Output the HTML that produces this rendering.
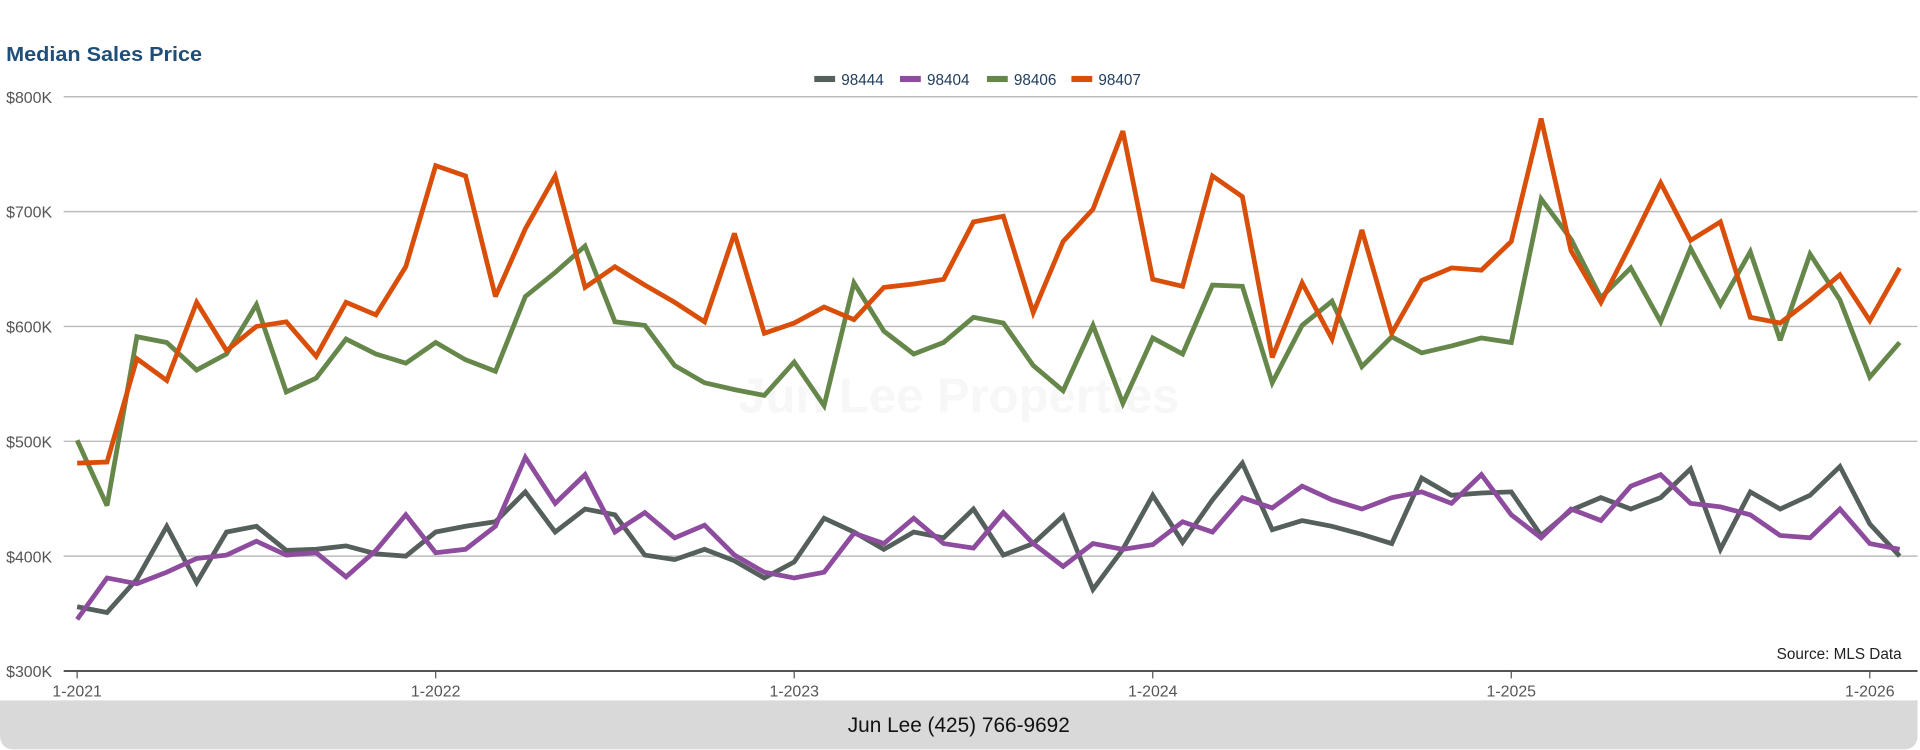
<!DOCTYPE html>
<html><head><meta charset="utf-8">
<style>
html,body{margin:0;padding:0;background:#fff;}
svg{display:block;}
text{font-family:"Liberation Sans",sans-serif;}
</style></head>
<body>
<svg id="chart" width="1920" height="750" viewBox="0 0 1568 612.5" xmlns="http://www.w3.org/2000/svg">
<text x="5" y="50" font-size="16.5" font-weight="bold" fill="#1f4e79" textLength="160" lengthAdjust="spacingAndGlyphs">Median Sales Price</text>
<text x="783" y="337" font-size="40" font-weight="bold" fill="#f7f7f7" text-anchor="middle">Jun Lee Properties</text>
<g id="grid"></g>
<g id="ylabels"></g>
<g id="xlabels"></g>
<g id="series"></g>
<g id="legend"></g>
<text x="1553" y="538" font-size="12.5" fill="#222" text-anchor="end">Source: MLS Data</text>
<path d="M0,572 H1566 V600 Q1566,612 1554,612 H12 Q0,612 0,600 Z" fill="#d9d9d9"/>
<text x="783" y="598" font-size="17" fill="#111" text-anchor="middle">Jun Lee (425) 766-9692</text>
</svg>
<script>
const seriesNames = ["98444","98404","98406","98407"];
const seriesColors = ["#555f5c","#8e4c9e","#66874a","#d94f0a"];
const yTicks = [300,400,500,600,700,800];
const yTickLabels = ["$300K","$400K","$500K","$600K","$700K","$800K"];
const xTickIndex = [0,12,24,36,48,60];
const xTickLabels = ["1-2021","1-2022","1-2023","1-2024","1-2025","1-2026"];
const s98444 = [356,351,380,426,377,421,426,405,406,409,402,400,421,426,430,456,421,441,436,401,397,406,396,381,395,433,421,406,421,416,441,401,411,435,371,406,453,412,449,481,423,431,426,419,411,468,453,455,456,418,440,451,441,451,476,406,456,441,453,478,428,400];
const s98404 = [345,381,376,386,398,401,413,401,403,382,405,436,403,406,426,486,446,471,421,438,416,427,401,386,381,386,420,411,433,411,407,438,411,391,411,406,410,430,421,451,442,461,449,441,451,456,446,471,436,416,441,431,461,471,446,443,436,418,416,441,411,406];
const s98406 = [501,444,591,586,562,576,619,543,555,589,576,568,586,571,561,626,647,670,604,601,566,551,545,540,569,531,638,596,576,586,608,603,566,544,601,533,590,576,636,635,551,601,622,565,591,577,583,590,586,711,676,625,651,604,668,619,665,588,663,623,556,586];
const s98407 = [481,482,572,553,621,579,600,604,574,621,610,652,740,731,626,685,731,634,652,636,621,604,681,594,603,617,606,634,637,641,691,696,612,674,702,770,641,635,731,713,573,638,589,684,594,640,651,649,674,781,666,621,672,725,675,691,608,603,623,645,605,651];
const allSeries = [s98444,s98404,s98406,s98407];

const NS="http://www.w3.org/2000/svg";
const X0=63, DX=24.4, Y300=548, PXPER100=93.8;
function xPos(i){return X0+i*DX;}
function yPos(v){return Y300-(v-300)*PXPER100/100;}
function mk(tag,attrs,parent){const e=document.createElementNS(NS,tag);for(const k in attrs)e.setAttribute(k,attrs[k]);parent.appendChild(e);return e;}

const grid=document.getElementById('grid'), yl=document.getElementById('ylabels'), xl=document.getElementById('xlabels');
yTicks.forEach((t,i)=>{
  const y=yPos(t);
  const ln=mk('line',{x1:52,x2:1566,y1:y,y2:y,stroke:i===0?'#555':'#bbb','stroke-width':i===0?1.6:1.2},grid);
  
  
  const tx=mk('text',{x:5,y:y+5,'font-size':13,fill:'#555'},yl);
  tx.textContent=yTickLabels[i];
  
  
});
xTickIndex.forEach((idx,i)=>{
  const x=xPos(idx);
  const tk=mk('line',{x1:x,x2:x,y1:548,y2:554,stroke:'#555','stroke-width':1},xl);
  
  
  const tx=mk('text',{x:x,y:569,'font-size':13,fill:'#555','text-anchor':'middle'},xl);
  tx.textContent=xTickLabels[i];
  
  
});
const sg=document.getElementById('series');
allSeries.forEach((arr,si)=>{
  const pts=arr.map((v,i)=>xPos(i).toFixed(1)+','+yPos(v).toFixed(1)).join(' ');
  const pl=mk('polyline',{points:pts,fill:'none',stroke:seriesColors[si],'stroke-width':3.9,'stroke-linejoin':'miter','stroke-miterlimit':3},sg);
  
  
});
const lg=document.getElementById('legend');
const lx=[665,735,806,875];
seriesNames.forEach((n,i)=>{
  const r=mk('rect',{x:lx[i],y:62,width:17,height:5,fill:seriesColors[i]},lg);
  
  
  const t=mk('text',{x:lx[i]+22,y:69.5,'font-size':12.5,fill:'#1f3b5c'},lg);
  t.textContent=n;
  
  
});
</script>
</body></html>
